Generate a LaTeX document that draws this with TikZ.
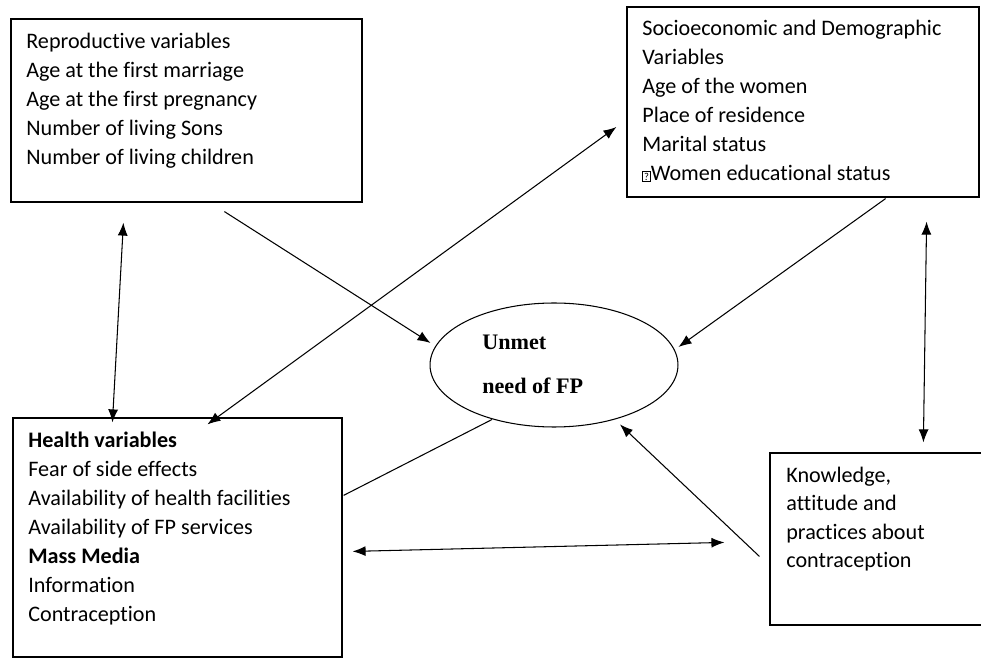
\documentclass[tikz,border=0pt]{standalone}
\usepackage{fontspec}
\setmainfont{Carlito}[Ligatures = NoCommon]
\newfontfamily\timesfont{Liberation Serif}
\usetikzlibrary{arrows.meta,calc,shapes.geometric}

% the missing glyph before "Women"
\newcommand{\qglyph}{\raisebox{0.2pt}{\setlength{\fboxsep}{0.6pt}\setlength{\fboxrule}{0.4pt}\fbox{\fontsize{6}{6}\selectfont ?}}}

\begin{document}
\begin{tikzpicture}[%
  box/.style = {draw, line width = 0.7pt, inner sep = 0pt},
  txt/.style = {anchor = north west, inner sep = 0pt, align = left,
    font = \fontsize{12.6}{16.5}\selectfont},
  oval/.style = {ellipse, draw, line width = 0.6pt, inner sep = 0pt,
    minimum width = 4.96cm, minimum height = 2.48cm},
  arr/.style = {line width = 0.6pt, -{Latex[length = 2.6mm, width = 2mm]}},
  dbl/.style = {line width = 0.6pt, {Latex[length = 2.6mm, width = 2mm]}-{Latex[length = 2.6mm, width = 2mm]}},
  x = 0.02cm, y = -0.02cm]
  \useasboundingbox (0, 0) rectangle (981, 658);

  \node[box, minimum width = 7.02cm, minimum height = 3.66cm] (repro) at (186.5, 110.5) {};
  \node[box, minimum width = 7.04cm, minimum height = 3.80cm] (socio) at (803, 102) {};
  \node[box, minimum width = 6.58cm, minimum height = 4.78cm] (health) at (177.5, 537.5) {};
  \node[box, minimum width = 4.40cm, minimum height = 3.44cm] (know) at (880, 539) {};
  \node[oval] (elli) at (554, 365) {};

  \node[txt] (reprotxt) at (26, 28) {\strut Reproductive variables\\Age at the first marriage\\
    Age at the first pregnancy\\Number of living Sons\\Number of living children};
  \node[txt] (sociotxt) at (642, 15) {\strut Socioeconomic and Demographic\\Variables\\
    Age of the women\\Place of residence\\Marital status\\\qglyph Women educational status};
  \node[txt] (healthtxt) at (28, 427) {\strut\textbf{Health variables}\\Fear of side effects\\
    Availability of health facilities\\Availability of FP services\\\textbf{Mass Media}\\
    Information\\Contraception};
  \node[txt, font = \fontsize{12.6}{16.2}\selectfont] (knowtxt) at (786, 462) {\strut Knowledge,\\
    attitude and\\practices about\\contraception};
  \node[txt, font = \fontsize{12.6}{25}\timesfont\bfseries] (ellitxt) at (482, 318) {\strut Unmet\\need of FP};

  \draw[arr] ($(repro.south west) + (214, 9)$) -- ($(elli.west) + (1, -22)$);
  \draw[arr] ($(socio.south east) + (-94, 1)$) -- ($(elli.east) + (0, -18)$);
  \draw[dbl] ($(repro.south west) + (113, 20)$) -- ($(health.north west) + (100, 5)$);
  \draw[dbl] ($(health.north west) + (195, 7)$) -- ($(socio.west) + (-10, 25)$);
  \draw[dbl] ($(socio.south east) + (-53, 24)$) -- ($(know.north west) + (154, -10)$);
  \draw[line width = 0.6pt] ($(health.north east) + (1, 78)$) -- ($(elli.south) + (-62, -8)$);
  \draw[arr] ($(know.north west) + (-10, 104)$) -- ($(elli.south) + (66, -3)$);
  \draw[dbl] ($(health.north east) + (10, 134)$) -- ($(know.north west) + (-45, 90)$);
\end{tikzpicture}
\end{document}
